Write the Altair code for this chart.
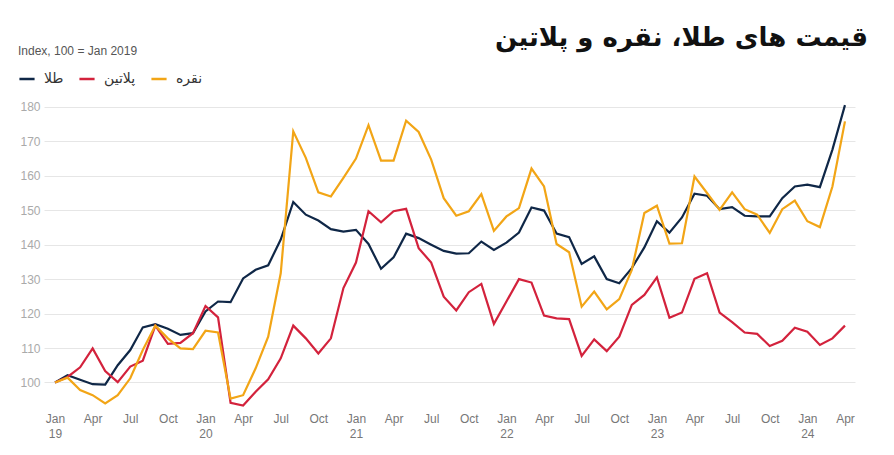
import json
import altair as alt
import pandas as pd

# ---- data ----
months = [f"{y}-{m:02d}" for y in range(2019, 2025) for m in range(1, 13)][:64]

gold = [100, 102.1, 100.8, 99.5, 99.4, 105, 109.4, 116, 116.9, 115.6, 113.8, 114.3,
        120.6, 123.5, 123.3, 130.2, 132.7, 134, 141.5, 152.4, 148.7, 147, 144.5, 143.8,
        144.3, 140.2, 133, 136.3, 143.2, 141.9, 140, 138.2, 137.4, 137.5, 140.9, 138.5,
        140.6, 143.5, 150.8, 149.9, 143.2, 142.2, 134.4, 136.6, 130, 128.8, 133.2, 139.2,
        146.8, 143.5, 147.9, 154.8, 154.2, 150.3, 150.9, 148.4, 148.2, 148.2, 153.5, 156.9,
        157.4, 156.7, 167.6, 180.5]
platinum = [100, 101.6, 104.4, 109.9, 103.3, 100.1, 104.6, 106.3, 116.5, 111.2, 111.5, 114.3,
            122.2, 118.9, 94.1, 93.3, 97.3, 100.9, 107, 116.5, 112.8, 108.4, 112.8, 127.4,
            134.8, 149.7, 146.5, 149.7, 150.4, 139, 134.8, 124.9, 120.9, 126.2, 128.6, 117,
            123.5, 130, 129, 119.4, 118.6, 118.4, 107.7, 112.5, 109.1, 113.3, 122.5, 125.4,
            130.5, 118.8, 120.3, 130.1, 131.7, 120.3, 117.5, 114.5, 114.1, 110.6, 112.1, 115.9,
            114.7, 110.9, 112.8, 116.5]
silver = [100, 101.4, 97.8, 96.3, 93.9, 96.3, 101.2, 109.4, 116.5, 112.8, 109.9, 109.7,
          115, 114.5, 95.3, 96.3, 104.1, 113.3, 131.7, 172.9, 165.2, 155.2, 154, 159.4,
          165, 174.7, 164.4, 164.4, 176, 172.7, 164.7, 153.5, 148.4, 149.7, 154.7, 144,
          148.2, 150.6, 162.1, 156.9, 140.2, 137.8, 122, 126.4, 121.2, 124.2, 132.7, 149.2,
          151.3, 140.3, 140.4, 159.8, 155, 150.1, 155.2, 150.3, 148.7, 143.4, 150.3, 152.8,
          146.8, 145.1, 156.9, 175.8]

series_names = ["طلا", "پلاتین", "نقره"]
series_colors = ["#0f2747", "#d3223c", "#f2a516"]
tick_months = ["Jan", "Apr", "Jul", "Oct"]
tick_years = ["19", "20", "21", "22", "23", "24"]
y_ticks = [100, 110, 120, 130, 140, 150, 160, 170, 180]

rows = []
for name, vals in zip(series_names, [gold, platinum, silver]):
    for i, (m, v) in enumerate(zip(months, vals)):
        rows.append({"month": m, "idx": i, "series": name, "value": v})
df = pd.DataFrame(rows)

label_expr = (
    f"[{json.dumps(tick_months)}[(datum.value/3)%4], "
    f"datum.value%12==0 ? {json.dumps(tick_years)}[datum.value/12] : '']"
)

chart = alt.Chart(df).mark_line(strokeWidth=2.2).encode(
    x=alt.X("idx:Q",
            scale=alt.Scale(domain=[-0.88, 63.8], nice=False, zero=False),
            axis=alt.Axis(values=list(range(0, 64, 3)), labelExpr=label_expr,
                          grid=False, domain=False, ticks=False, title=None,
                          labelFont="Liberation Sans", labelFontSize=12,
                          labelColor="#777777", labelPadding=3, labelLineHeight=15,
                          labelFlush=False, labelOverlap=False)),
    y=alt.Y("value:Q",
            scale=alt.Scale(domain=[92, 182], nice=False, zero=False),
            axis=alt.Axis(values=y_ticks, grid=True, gridColor="#e6e6e6", domain=False,
                          ticks=False, title=None, labelFont="Liberation Sans",
                          labelFontSize=12, labelColor="#aaaaaa", labelPadding=4)),
    color=alt.Color("series:N",
                    scale=alt.Scale(domain=series_names, range=series_colors),
                    legend=alt.Legend(title="Index, 100 = Jan 2019", orient="none",
                                      legendX=-26, legendY=-54, direction="horizontal",
                                      titleFont="Liberation Sans", titleFontSize=12,
                                      titleFontWeight="normal", titleColor="#555555",
                                      titlePadding=12, labelFont="DejaVu Sans",
                                      labelFontSize=14, labelColor="#333333",
                                      symbolType="stroke", symbolStrokeWidth=2.5,
                                      symbolSize=230, labelOffset=8, columnPadding=10)),
    order=alt.Order("idx:Q"),
).properties(
    width=811,
    height=310,
    autosize=alt.AutoSizeParams(type="none"),
    padding={"left": 44, "top": 100, "right": 39, "bottom": 45},
    title=alt.TitleParams("قیمت های طلا، نقره و پلاتین", anchor="end", fontSize=26,
                          font="DejaVu Sans", fontWeight="bold", color="#111111",
                          offset=-5, dx=13),
).configure_view(stroke=None)

chart.save("out.html", embed_options={"renderer": "svg", "actions": False})
